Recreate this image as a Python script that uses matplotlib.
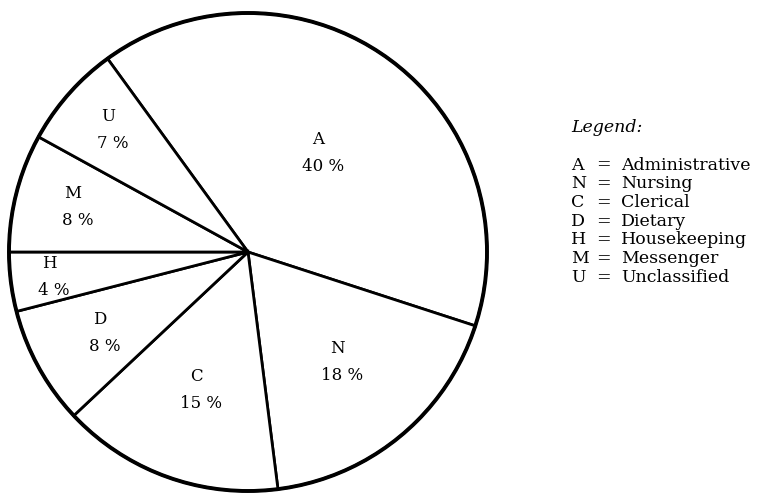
import numpy as np
import matplotlib.pyplot as plt

codes = ['A', 'N', 'C', 'D', 'H', 'M', 'U']
shares = [40, 18, 15, 8, 4, 8, 7]
names = ['Administrative', 'Nursing', 'Clerical', 'Dietary',
         'Housekeeping', 'Messenger', 'Unclassified']

# how far out each label sits, as a fraction of the radius
label_r = [0.51, 0.60, 0.615, 0.70, 0.83, 0.75, 0.77]

plt.rcParams['font.family'] = ['DejaVu Serif']

W, H = 761, 494
fig = plt.figure(figsize=(W / 100, H / 100), dpi=100)
ax = fig.add_axes([0, 0, 1, 1])

# circle of radius 1 = 239 px, centred at (248, 252) px from top-left
px = 239.0
cx, cy = 248, 252

wedges, _ = ax.pie(shares, startangle=126, counterclock=False, radius=1.0,
                   wedgeprops=dict(facecolor='white', edgecolor='black',
                                   linewidth=2.0))
ax.add_patch(plt.Circle((0, 0), 1.0, fill=False, edgecolor='black',
                        linewidth=2.8, zorder=5))
ax.set_aspect('auto')
ax.set_xlim(-cx / px, (W - cx) / px)
ax.set_ylim(-(H - cy) / px, cy / px)
ax.axis('off')

gap = 13.5 / px  # half distance between the two label lines
for w, c, s, r in zip(wedges, codes, shares, label_r):
    ang = np.deg2rad((w.theta1 + w.theta2) / 2)
    x, y = r * np.cos(ang), r * np.sin(ang)
    ax.text(x - 2 / px, y + gap, c, ha='center', va='center', fontsize=12)
    ax.text(x + 3 / px, y - gap, f'{s} %', ha='center', va='center',
            fontsize=12)

# legend block on the right
lx = 571 / W
ly = 1 - 127 / H
fig.text(lx, ly, 'Legend:', fontsize=12.5, style='italic', va='center')
step = 18.7 / H
for i, (c, n) in enumerate(zip(codes, names)):
    y = 1 - 165 / H - i * step
    fig.text(lx, y, c, fontsize=12.5, va='center')
    fig.text(lx + 25 / W, y, '=', fontsize=12.5, va='center')
    fig.text(lx + 50 / W, y, n, fontsize=12.5, va='center')

fig.savefig('out.png', dpi=100)
